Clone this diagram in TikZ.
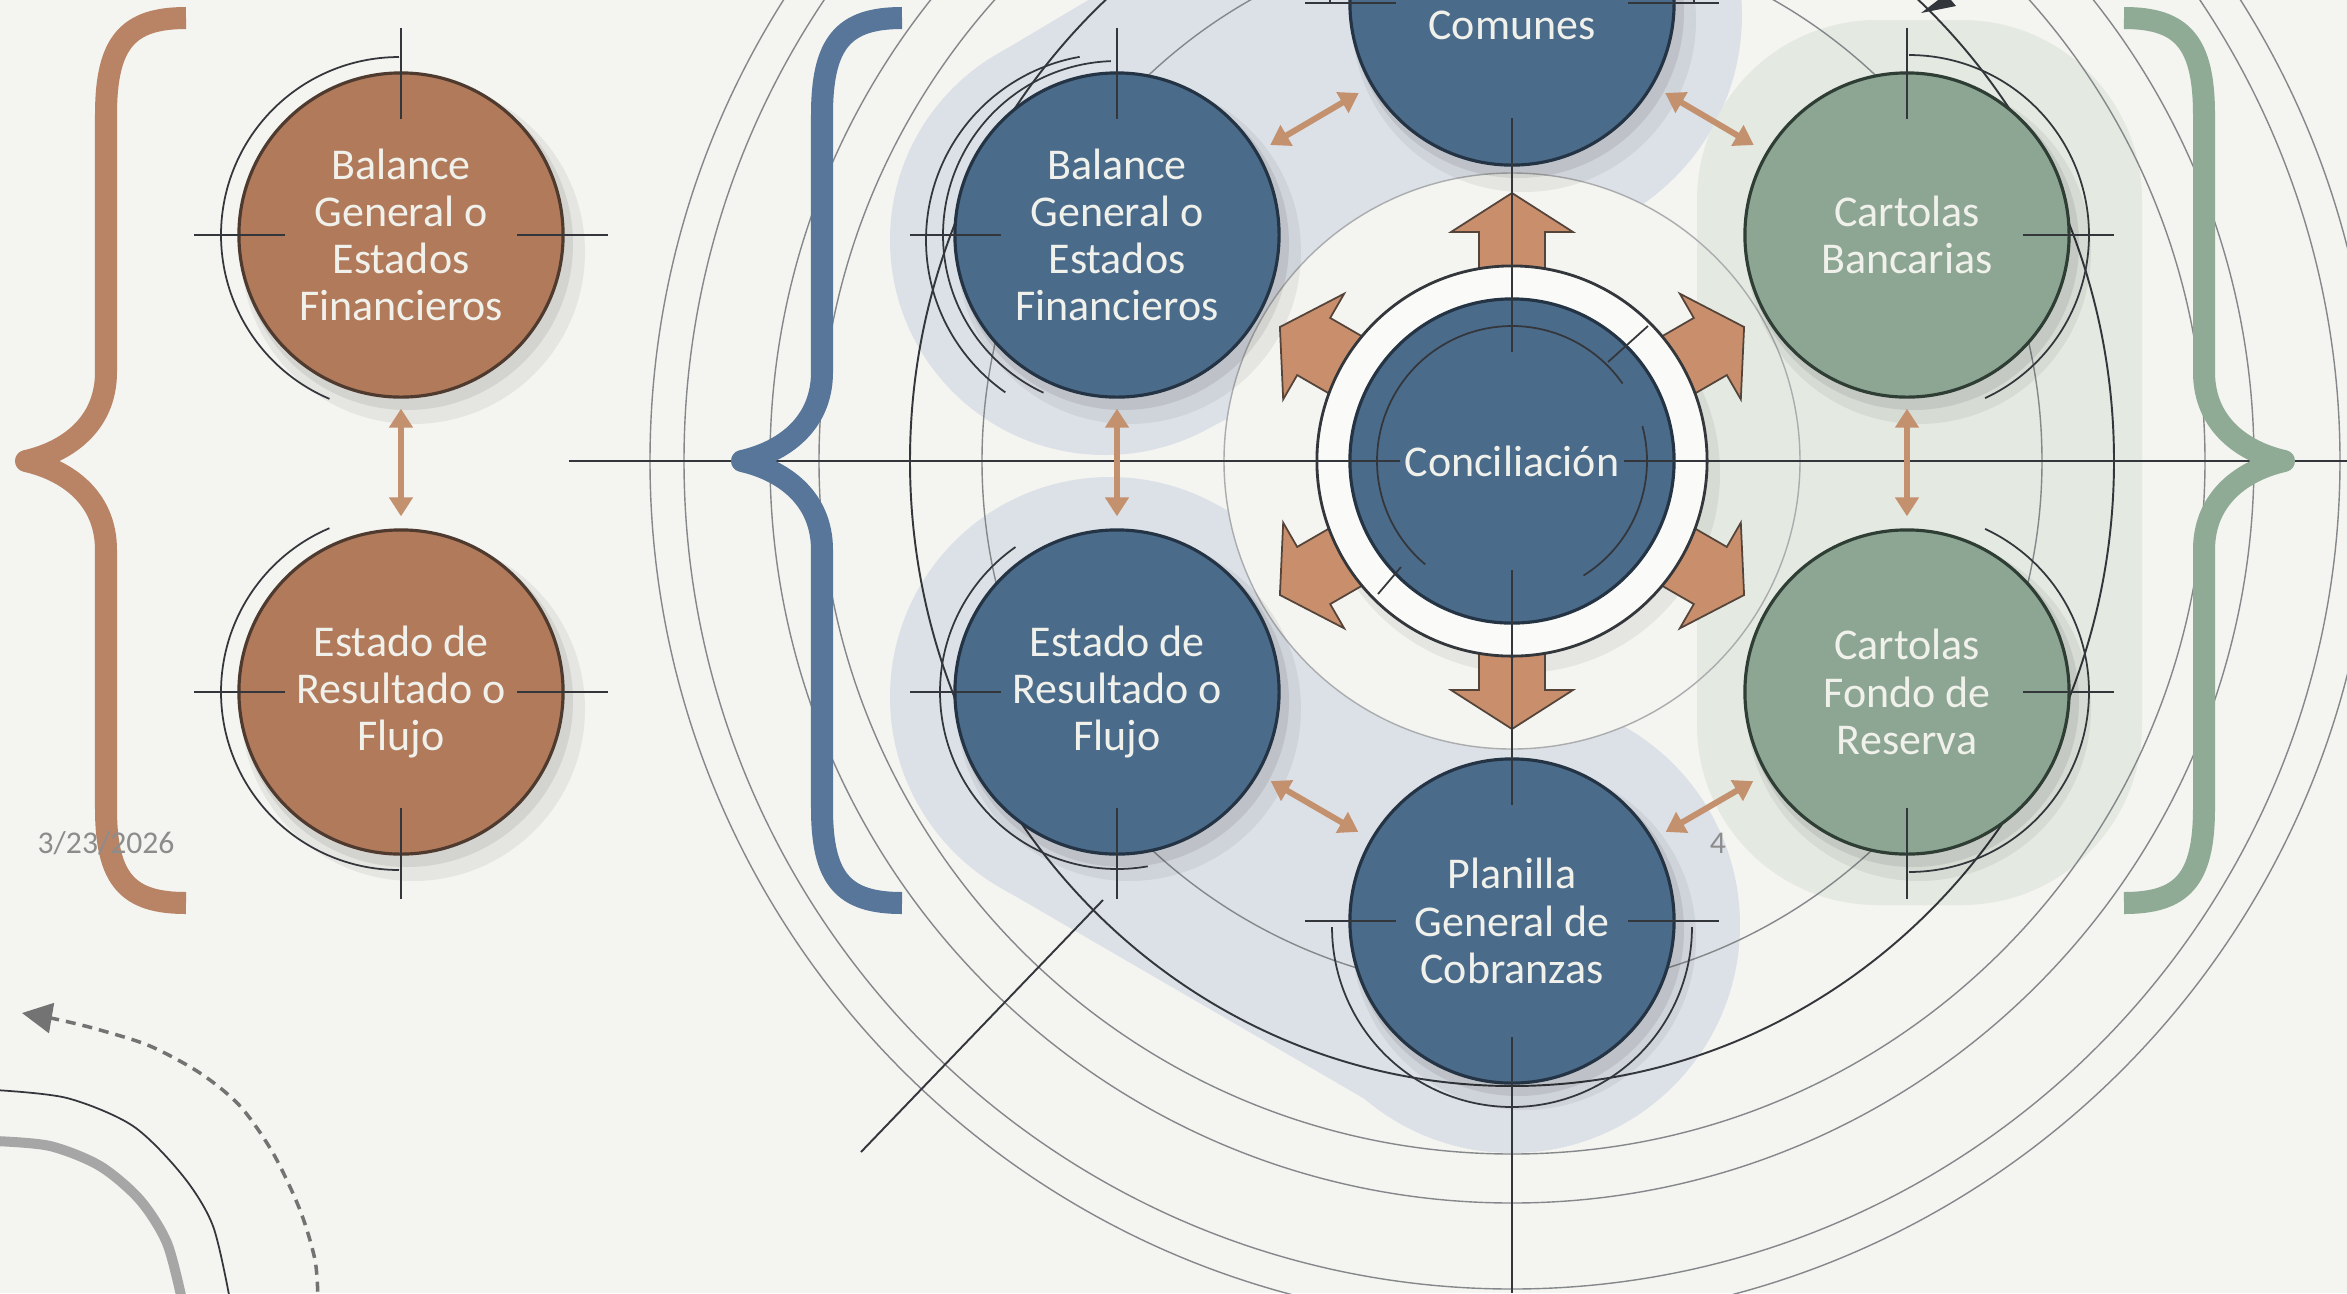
\documentclass[tikz,border=0pt]{standalone}
\usepackage{fontspec}
\setmainfont{Carlito}
\usetikzlibrary{calc,arrows.meta}
\definecolor{bg}{HTML}{F4F4F0}
\definecolor{blobB}{HTML}{DCE1E8}
\definecolor{blobG}{HTML}{E4E9E2}
\definecolor{orF}{HTML}{B17A5B}
\definecolor{orD}{HTML}{4E3A2E}
\definecolor{orBr}{HTML}{B98466}
\definecolor{blF}{HTML}{4B6B8B}
\definecolor{blD}{HTML}{243444}
\definecolor{blBr}{HTML}{57769A}
\definecolor{grF}{HTML}{8DA693}
\definecolor{grD}{HTML}{2E3E35}
\definecolor{grBr}{HTML}{8FAA95}
\definecolor{arF}{HTML}{C98F6C}
\definecolor{arD}{HTML}{54443A}
\definecolor{smA}{HTML}{C4916F}
\definecolor{lnL}{HTML}{85888B}
\definecolor{lnD}{HTML}{33373B}
\definecolor{txtc}{HTML}{F1F1EC}
\definecolor{datec}{HTML}{8C8C8C}
\definecolor{ringc}{HTML}{FAFAF8}

\newcommand\tk[2]{\draw[tickln] ($(#1)+(#2:116)$) -- ($(#1)+(#2:207)$);}
\newcommand\parc[6][]{\draw[arcln,#1] plot[domain=#5:#6, samples=60, smooth] ({#2+#4*cos(\x)},{#3+#4*sin(\x)});}
\newcommand\bigarr[1]{\filldraw[bigar] ($(C)+(#1:172)+({#1+90}:33)$) -- ($(C)+(#1:229)+({#1+90}:33)$) -- ($(C)+(#1:229)+({#1+90}:61)$) -- ($(C)+(#1:268)$) -- ($(C)+(#1:229)+({#1-90}:61)$) -- ($(C)+(#1:229)+({#1-90}:33)$) -- ($(C)+(#1:172)+({#1-90}:33)$) -- cycle;}
\newcommand\lbr[2]{\draw[brace,draw=#2] ({#1+80},18) .. controls ({#1+22},18) and (#1,42) .. (#1,115) -- (#1,372) .. controls (#1,425) and ({#1-40},452) .. ({#1-80},461) .. controls ({#1-40},470) and (#1,497) .. (#1,550) -- (#1,808) .. controls (#1,880) and ({#1+22},903) .. ({#1+80},903);}
\newcommand\rbr[2]{\draw[brace,draw=#2] ({#1-80},18) .. controls ({#1-22},18) and (#1,42) .. (#1,115) -- (#1,372) .. controls (#1,425) and ({#1+40},452) .. ({#1+80},461) .. controls ({#1+40},470) and (#1,497) .. (#1,550) -- (#1,808) .. controls (#1,880) and ({#1-22},903) .. ({#1-80},903);}
\newcommand\shd[1]{\fill[black,opacity=0.06] ($(#1)+(12,17)$) circle (172); \fill[black,opacity=0.08] ($(#1)+(6,9)$) circle (166);}

\begin{document}
\begin{tikzpicture}[x=0.01cm,y=-0.01cm,
  circ/.style={circle, minimum size=3.24cm, inner sep=0pt, line width=0.9pt},
  ornode/.style={circ, fill=orF, draw=orD},
  blnode/.style={circ, fill=blF, draw=blD},
  grnode/.style={circ, fill=grF, draw=grD},
  lbl/.style={align=center, text=txtc, font=\fontsize{12.5}{13.4}\selectfont},
  tickln/.style={draw=lnD, line width=0.6pt},
  arcln/.style={draw=lnD, line width=0.5pt},
  conc/.style={draw=lnL, line width=0.4pt},
  concD/.style={draw=lnD, line width=0.55pt},
  brace/.style={line width=0.22cm, line cap=butt, line join=round},
  dbl/.style={draw=smA, line width=0.06cm, {Triangle[length=0.19cm,width=0.23cm]}-{Triangle[length=0.19cm,width=0.23cm]}},
  bigar/.style={fill=arF, draw=arD, line width=0.5pt, line join=miter},
  datest/.style={text=datec, font=\fontsize{9}{10}\selectfont, inner sep=0pt}
]
\useasboundingbox (0,0) rectangle (2347,1293);
\clip (0,0) rectangle (2347,1293);
\fill[bg] (0,0) rectangle (2347,1293);

\coordinate (C) at (1512,461);
\coordinate (pOr1) at (401,235);
\coordinate (pOr2) at (401,692);
\coordinate (pBl1) at (1117,235);
\coordinate (pBl2) at (1117,692);
\coordinate (pCom) at (1512,3);
\coordinate (pPla) at (1512,921);
\coordinate (pGr1) at (1907,235);
\coordinate (pGr2) at (1907,692);

% blobs
\fill[blobB] (1105,240) circle (215);
\fill[blobB] (1512,15) circle (230);
\fill[blobB] (1001,52) -- (1401,-186) -- (1623,216) -- (1209,428) -- cycle;
\fill[blobB] (1110,697) circle (220);
\fill[blobB] (1512,925) circle (228);
\fill[blobB] (1003,889) -- (1401,1120) -- (1623,722) -- (1217,505) -- cycle;
\fill[bg] (C) circle (288);
\fill[blobG, rounded corners=1.8cm] (1697,20) rectangle (2142,905);

% concentric guide circles
\draw[conc, draw=lnL!70] (C) circle (288);
\foreach \r in {530,693,742,828,862} \draw[conc] (C) circle (\r);
\draw[concD] (C) ellipse [x radius=602, y radius=625];
\draw[concD] (861,1152) -- (1103,900);
\fill[lnD] (1921,13) -- (1946,-6) -- (1956,6) -- cycle;

% main horizontal line (outer parts)
\draw[tickln] (569,461) -- (1300,461);
\draw[tickln] (1720,461) -- (2347,461);

% braces
\lbr{106}{orBr}
\lbr{822}{blBr}
\rbr{2204}{grBr}

% shadows
\foreach \p in {pOr1,pOr2,pBl1,pBl2,pCom,pPla,pGr1,pGr2} {\shd{\p}}
\fill[black,opacity=0.06] ($(C)+(8,12)$) circle (200);

% big orange arrows around the center
\bigarr{-90}
\bigarr{90}
\bigarr{-150}
\bigarr{-30}
\bigarr{150}
\bigarr{30}

% ring and circles
\node[circle, minimum size=3.9cm, inner sep=0pt, fill=ringc, draw=lnD, line width=0.8pt] (ring) at (C) {};
\node[blnode, lbl] (conc) at (C) {Conciliación};

\node[ornode, lbl] (or1) at (pOr1) {Balance\\General o\\Estados\\Financieros};
\node[ornode, lbl] (or2) at (pOr2) {Estado de\\Resultado o\\Flujo};
\node[blnode, lbl] (bl1) at (pBl1) {Balance\\General o\\Estados\\Financieros};
\node[blnode, lbl] (bl2) at (pBl2) {Estado de\\Resultado o\\Flujo};
\node[blnode] (com) at (pCom) {};
\node[lbl] (comtxt) at (1512,25) {Comunes};
\node[blnode, lbl] (pla) at (pPla) {Planilla\\General de\\Cobranzas};
\node[grnode, lbl] (gr1) at (pGr1) {Cartolas\\Bancarias};
\node[grnode, lbl] (gr2) at (pGr2) {Cartolas\\Fondo de\\Reserva};

% offset arcs
\parc{399}{235}{178}{-247}{-90}
\parc{399}{692}{178}{-270}{-113}
\parc{1117}{235}{174}{-245}{-92}
\parc{1112}{240}{186}{-235}{-100}
\parc{1117}{692}{177}{-280}{-125}
\parc{1512}{927}{180}{0}{180}
\parc{1909}{235}{180}{-90}{65}
\parc{1909}{692}{180}{-65}{90}
\draw[arcln] (1330,-6) -- (1330,4);
\draw[arcln] (1694,-6) -- (1694,4);

% ticks
\tk{or1}{-90} \tk{or1}{180} \tk{or1}{0}
\tk{or2}{180} \tk{or2}{0} \tk{or2}{90}
\tk{bl1}{-90} \tk{bl1}{180}
\tk{bl2}{180} \tk{bl2}{90}
\tk{com}{180} \tk{com}{0}
\tk{pla}{180} \tk{pla}{0}
\tk{gr1}{-90} \tk{gr1}{0}
\tk{gr2}{0} \tk{gr2}{90}

% center lines through the middle column
\draw[tickln] (1290,461) -- (1400,461);
\draw[tickln] (1624,461) -- (1735,461);
\draw[tickln] (1512,118) -- (1512,352);
\draw[tickln] (1512,570) -- (1512,805);
\draw[tickln] (1512,1037) -- (1512,1293);

% inner arcs of the center
\parc{1512}{461}{135}{-230}{-35}
\parc{1512}{461}{135}{-15}{58}
\draw[arcln] (1608,362) -- (1648,326);
\draw[arcln] (1378,594) -- (1401,567);

% small double arrows
\draw[dbl, shorten <=0.1cm, shorten >=0.12cm] (or1) -- (or2);
\draw[dbl, shorten <=0.1cm, shorten >=0.12cm] (bl1) -- (bl2);
\draw[dbl, shorten <=0.1cm, shorten >=0.12cm] (gr1) -- (gr2);
\draw[dbl, shorten <=0.14cm, shorten >=0.14cm] (bl1) -- (com);
\draw[dbl, shorten <=0.14cm, shorten >=0.14cm] (com) -- (gr1);
\draw[dbl, shorten <=0.14cm, shorten >=0.14cm] (bl2) -- (pla);
\draw[dbl, shorten <=0.14cm, shorten >=0.14cm] (pla) -- (gr2);

% footer texts
\node[datest, anchor=west] (date) at (37,843) {3/23/2026};
\node[datest] (pnum) at (1718,843) {4};

% bottom-left decoration
\draw[line width=0.1cm, draw=black!35] plot[smooth] coordinates {(-5,1141) (50,1146) (100,1166) (140,1200) (167,1243) (182,1300)};
\draw[arcln] plot[smooth] coordinates {(-5,1090) (67,1098) (133,1126) (183,1176) (213,1226) (230,1300)};
\draw[draw=black!55, line width=0.035cm, dash pattern=on 0.1cm off 0.07cm, {Triangle[length=0.3cm,width=0.3cm]}-] plot[smooth] coordinates {(22,1013) (60,1020) (100,1030) (150,1046) (200,1073) (240,1106) (273,1153) (300,1210) (315,1260) (318,1300)};
\end{tikzpicture}
\end{document}
